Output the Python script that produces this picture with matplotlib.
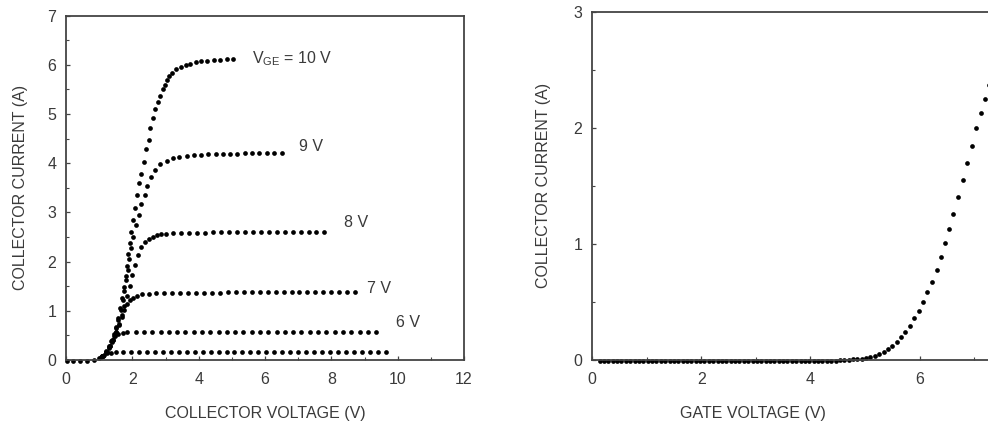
import matplotlib
matplotlib.use("Agg")
import matplotlib.pyplot as plt
from matplotlib.ticker import MultipleLocator

plt.rcParams['font.family'] = ['Liberation Sans', 'DejaVu Sans']
plt.rcParams['mathtext.fontset'] = 'custom'
plt.rcParams['mathtext.rm'] = 'Liberation Sans'

# ---------------- Left panel: output characteristics ----------------
x10 = [0.02, 0.22, 0.42, 0.64, 0.85, 0.98, 1.10, 1.20, 1.29, 1.37, 1.44, 1.51, 1.58, 1.64,
       1.70, 1.75, 1.80, 1.84, 1.88, 1.92, 1.96, 2.01, 2.07, 2.14, 2.21, 2.26, 2.34, 2.42,
       2.49, 2.54, 2.62, 2.69, 2.76, 2.83, 2.91, 2.98, 3.05, 3.12, 3.21, 3.32, 3.46, 3.61,
       3.75, 3.91, 4.08, 4.26, 4.45, 4.65, 4.85, 5.05]
y10 = [-0.02, -0.02, -0.02, -0.02, 0.01, 0.04, 0.09, 0.16, 0.26, 0.38, 0.52, 0.68, 0.86, 1.06,
       1.27, 1.48, 1.70, 1.92, 2.15, 2.38, 2.61, 2.85, 3.10, 3.35, 3.59, 3.79, 4.03, 4.28,
       4.47, 4.71, 4.91, 5.10, 5.24, 5.37, 5.50, 5.60, 5.69, 5.78, 5.84, 5.91, 5.96, 5.99,
       6.02, 6.05, 6.07, 6.08, 6.09, 6.10, 6.12, 6.12]

x9 = [1.08, 1.20, 1.30, 1.38, 1.45, 1.52, 1.58, 1.65, 1.71, 1.76, 1.81, 1.86, 1.91, 1.97,
      2.03, 2.11, 2.20, 2.27, 2.37, 2.45, 2.56, 2.69, 2.84, 3.04, 3.22, 3.42, 3.65, 3.85,
      4.07, 4.29, 4.51, 4.73, 4.95, 5.17, 5.39, 5.61, 5.83, 6.05, 6.27, 6.50]
y9 = [0.08, 0.16, 0.25, 0.36, 0.49, 0.65, 0.82, 1.01, 1.21, 1.41, 1.62, 1.83, 2.05, 2.28,
      2.51, 2.74, 2.95, 3.17, 3.35, 3.54, 3.73, 3.87, 3.98, 4.04, 4.10, 4.13, 4.15, 4.16,
      4.17, 4.18, 4.18, 4.19, 4.19, 4.19, 4.20, 4.20, 4.20, 4.21, 4.21, 4.21]

x8 = [1.12, 1.23, 1.33, 1.42, 1.51, 1.60, 1.68, 1.76, 1.84, 1.92, 2.00, 2.08, 2.17, 2.27,
      2.38, 2.49, 2.61, 2.74, 2.87, 3.00, 3.24, 3.48, 3.72, 3.96, 4.20, 4.44, 4.68, 4.92,
      5.16, 5.40, 5.64, 5.88, 6.12, 6.36, 6.60, 6.84, 7.08, 7.32, 7.55, 7.77]
y8 = [0.08, 0.17, 0.28, 0.41, 0.56, 0.73, 0.91, 1.10, 1.30, 1.51, 1.72, 1.93, 2.13, 2.29,
      2.40, 2.47, 2.51, 2.54, 2.56, 2.57, 2.58, 2.58, 2.59, 2.59, 2.59, 2.60, 2.60, 2.60,
      2.60, 2.60, 2.60, 2.60, 2.61, 2.61, 2.61, 2.61, 2.61, 2.61, 2.61, 2.61]

x7 = [1.12, 1.23, 1.33, 1.42, 1.51, 1.60, 1.68, 1.76, 1.84, 1.92, 2.01, 2.13, 2.29, 2.49,
      2.72, 2.96, 3.20, 3.44, 3.68, 3.92, 4.16, 4.40, 4.64, 4.88, 5.12, 5.36, 5.60, 5.84,
      6.08, 6.32, 6.56, 6.80, 7.04, 7.28, 7.52, 7.76, 8.00, 8.24, 8.48, 8.72]
y7 = [0.08, 0.17, 0.28, 0.41, 0.56, 0.72, 0.88, 1.02, 1.13, 1.21, 1.26, 1.31, 1.34, 1.35,
      1.36, 1.36, 1.37, 1.37, 1.37, 1.37, 1.37, 1.37, 1.37, 1.38, 1.38, 1.38, 1.38, 1.38,
      1.38, 1.38, 1.38, 1.38, 1.38, 1.38, 1.38, 1.38, 1.38, 1.38, 1.38, 1.38]

x6 = [1.10, 1.20, 1.29, 1.38, 1.47, 1.58, 1.71, 1.85, 2.10, 2.35, 2.60, 2.85, 3.10, 3.35,
      3.60, 3.85, 4.10, 4.35, 4.60, 4.85, 5.10, 5.35, 5.60, 5.85, 6.10, 6.35, 6.60, 6.85,
      7.10, 7.35, 7.60, 7.85, 8.10, 8.35, 8.60, 8.85, 9.10, 9.34]
y6 = [0.09, 0.18, 0.29, 0.40, 0.48, 0.53, 0.55, 0.56, 0.56, 0.56, 0.57, 0.57, 0.57, 0.57,
      0.57, 0.57, 0.57, 0.57, 0.57, 0.57, 0.57, 0.57, 0.57, 0.57, 0.57, 0.57, 0.57, 0.57,
      0.57, 0.57, 0.57, 0.57, 0.57, 0.57, 0.57, 0.57, 0.57, 0.57]

x5 = [1.05, 1.15, 1.25, 1.36, 1.50, 1.72, 1.96, 2.20, 2.44, 2.68, 2.92, 3.16, 3.40, 3.64,
      3.88, 4.12, 4.36, 4.60, 4.84, 5.08, 5.32, 5.56, 5.80, 6.04, 6.28, 6.52, 6.76, 7.00,
      7.24, 7.48, 7.72, 7.96, 8.20, 8.44, 8.68, 8.92, 9.16, 9.40, 9.66]
y5 = [0.06, 0.11, 0.14, 0.15, 0.16, 0.16, 0.16, 0.16, 0.16, 0.16, 0.16, 0.16, 0.16, 0.16,
      0.16, 0.16, 0.16, 0.16, 0.16, 0.16, 0.16, 0.16, 0.16, 0.16, 0.16, 0.16, 0.16, 0.16,
      0.16, 0.16, 0.16, 0.16, 0.16, 0.16, 0.16, 0.16, 0.16, 0.16, 0.16]

curve_labels = ['$\\mathregular{V_{GE}}$ = 10 V', '9 V', '8 V', '7 V', '6 V']
label_x = [5.62, 7.02, 8.38, 9.08, 9.94]
label_y = [6.13, 4.34, 2.79, 1.46, 0.76]

# ---------------- Right panel: transfer characteristic ----------------
xg = [0.14, 0.22, 0.30, 0.38, 0.46, 0.54, 0.62, 0.70, 0.78, 0.86, 0.94, 1.02, 1.10, 1.18,
      1.26, 1.34, 1.42, 1.50, 1.58, 1.66, 1.74, 1.82, 1.90, 1.98, 2.06, 2.14, 2.22, 2.30,
      2.38, 2.46, 2.54, 2.62, 2.70, 2.78, 2.86, 2.94, 3.02, 3.10, 3.18, 3.26, 3.34, 3.42,
      3.50, 3.58, 3.66, 3.74, 3.82, 3.90, 3.98, 4.06, 4.14, 4.22, 4.30, 4.38, 4.46, 4.54,
      4.62, 4.70, 4.78, 4.86, 4.94, 5.02, 5.10, 5.18, 5.26, 5.34, 5.42, 5.50, 5.58, 5.66,
      5.74, 5.82, 5.90, 5.98, 6.06, 6.14, 6.23, 6.31, 6.39, 6.47, 6.54, 6.62, 6.71, 6.79,
      6.87, 6.96, 7.04, 7.12, 7.20, 7.27]
yg = [-0.01, -0.01, -0.01, -0.01, -0.01, -0.01, -0.01, -0.01, -0.01, -0.01, -0.01, -0.01,
      -0.01, -0.01, -0.01, -0.01, -0.01, -0.01, -0.01, -0.01, -0.01, -0.01, -0.01, -0.01,
      -0.01, -0.01, -0.01, -0.01, -0.01, -0.01, -0.01, -0.01, -0.01, -0.01, -0.01, -0.01,
      -0.01, -0.01, -0.01, -0.01, -0.01, -0.01, -0.01, -0.01, -0.01, -0.01, -0.01, -0.01,
      -0.01, -0.01, -0.01, -0.01, -0.01, -0.01, -0.01, 0.00, 0.00, 0.00, 0.01, 0.01,
      0.01, 0.02, 0.026, 0.037, 0.052, 0.072, 0.095, 0.123, 0.158, 0.196, 0.244, 0.296,
      0.359, 0.425, 0.497, 0.584, 0.675, 0.776, 0.885, 1.01, 1.13, 1.26, 1.40, 1.55,
      1.70, 1.84, 2.00, 2.13, 2.25, 2.37]

W, H = 988, 428
fig = plt.figure(figsize=(W / 100, H / 100), dpi=100)

spine_c = '#444444'
text_c = '#3a3a3a'
fs = 11.5

def style(ax):
    for s in ax.spines.values():
        s.set_color(spine_c)
        s.set_linewidth(1.3)
    ax.tick_params(which='both', direction='in', color=spine_c, top=False, right=False,
                   labelcolor=text_c, labelsize=fs)
    ax.tick_params(which='major', length=3, width=0.9)
    ax.tick_params(which='minor', length=2, width=0.8)
    ax.tick_params(axis='x', pad=9)
    ax.tick_params(axis='y', pad=7)

ax1 = fig.add_axes([66 / W, 1 - 360 / H, (464 - 66) / W, (360 - 15.7) / H])
dot = dict(ls='none', marker='o', ms=3.4, color='black', mec='none')
for xs, ys in [(x10, y10), (x9, y9), (x8, y8), (x7, y7), (x6, y6), (x5, y5)]:
    ax1.plot(xs, ys, clip_on=False, **dot)
ax1.set_xlim(0, 12)
ax1.set_ylim(0, 7)
ax1.xaxis.set_major_locator(MultipleLocator(2))
ax1.xaxis.set_minor_locator(MultipleLocator(1))
ax1.yaxis.set_major_locator(MultipleLocator(1))
ax1.yaxis.set_minor_locator(MultipleLocator(0.5))
style(ax1)
for t, lx, ly in zip(curve_labels, label_x, label_y):
    ax1.text(lx, ly, t, fontsize=fs, color=text_c, ha='left', va='center')
ax1.set_xlabel('COLLECTOR VOLTAGE (V)', fontsize=fs, color=text_c, labelpad=13)
ax1.set_ylabel('COLLECTOR CURRENT (A)', fontsize=fs, color=text_c, labelpad=14)

px_per_unit = 54.6
x2_max = 7.42
ax2_w_px = x2_max * px_per_unit
ax2 = fig.add_axes([592 / W, 1 - 360 / H, ax2_w_px / W, (360 - 11.7) / H])
ax2.plot(xg, yg, clip_on=False, **dot)
ax2.set_xlim(0, x2_max)
ax2.set_ylim(0, 3)
ax2.xaxis.set_major_locator(MultipleLocator(2))
ax2.xaxis.set_minor_locator(MultipleLocator(1))
ax2.yaxis.set_major_locator(MultipleLocator(1))
ax2.yaxis.set_minor_locator(MultipleLocator(0.5))
style(ax2)
ax2.set_xlabel('GATE VOLTAGE (V)', fontsize=fs, color=text_c, labelpad=13)
ax2.xaxis.label.set_x((753 - 592) / ax2_w_px)
ax2.set_ylabel('COLLECTOR CURRENT (A)', fontsize=fs, color=text_c, labelpad=16)

fig.savefig('out.png', dpi=100)
